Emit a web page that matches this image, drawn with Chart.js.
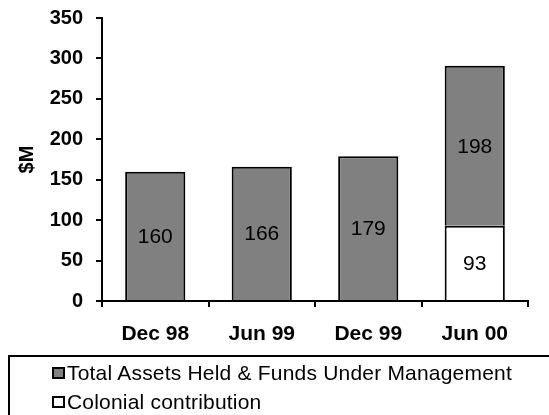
<!DOCTYPE html>
<html>
<head>
<meta charset="utf-8">
<script src="https://cdn.jsdelivr.net/npm/chart.js@4"></script>
<style>
  body { margin: 0; overflow: hidden; background: #fff; }
  #wrap { position: relative; width: 549px; height: 415px; }
  #legend {
    position: absolute; left: 8px; top: 355px; width: 600px; height: 100px;
    border: 2px solid #000; box-sizing: border-box;
    font-family: "Liberation Sans", Arial, sans-serif; font-size: 21px; letter-spacing: 0.2px;
  }
  .item { position: absolute; left: 42px; height: 24px; line-height: 24px; white-space: nowrap; }
  .item .box {
    position: absolute; left: 0; top: 6px; width: 13px; height: 12px;
    border: 2px solid #000; box-sizing: border-box;
  }
  .item span.txt { position: absolute; left: 15px; top: 0; }
</style>
</head>
<body>
<div id="wrap">
  <canvas id="chart" width="549" height="415"></canvas>
  <div id="legend"></div>
</div>
<script>
// Dados do gráfico
const periods = ['Dec 98', 'Jun 99', 'Dec 99', 'Jun 00'];
const totalAssets = [160, 166, 179, 198];
const colonial = [null, null, null, 93];
const yTicks = [0, 50, 100, 150, 200, 250, 300, 350];

// Escreve os valores no meio de cada barra
const barLabels = {
  id: 'barLabels',
  afterDatasetsDraw(chart) {
    const ctx = chart.ctx;
    ctx.save();
    ctx.font = '21px "Liberation Sans", Arial, sans-serif';
    ctx.fillStyle = '#000';
    ctx.textAlign = 'center';
    ctx.textBaseline = 'middle';
    chart.data.datasets.forEach((ds, i) => {
      chart.getDatasetMeta(i).data.forEach((bar, j) => {
        if (ds.data[j] == null) return;
        ctx.fillText(String(ds.data[j]), bar.x, (bar.y + bar.base) / 2 + 1);
      });
    });
    ctx.restore();
  }
};

const ctx = document.getElementById('chart').getContext('2d');
const chart = new Chart(ctx, {
  type: 'bar',
  data: {
    labels: periods,
    datasets: [
      {
        // fica por baixo na pilha
        label: 'Colonial contribution',
        data: colonial,
        backgroundColor: '#ffffff',
        borderColor: '#000000',
        borderWidth: 2
      },
      {
        label: 'Total Assets Held & Funds Under Management',
        data: totalAssets,
        backgroundColor: '#808080',
        borderColor: '#000000',
        borderWidth: 2
      }
    ]
  },
  options: {
    responsive: false,
    animation: false,
    layout: { padding: { left: 0, top: 18, right: 21, bottom: 70 } },
    datasets: { bar: { categoryPercentage: 1, barPercentage: 0.565 } },
    plugins: { legend: { display: false }, tooltip: { enabled: false } },
    scales: {
      x: {
        stacked: true,
        z: 1,
        afterFit: s => { s.height = 44; },
        grid: { drawOnChartArea: false, offset: true, color: '#000', lineWidth: 2, tickLength: 6 },
        border: { display: true, color: '#000', width: 2 },
        ticks: {
          color: '#000', padding: 15,
          font: { family: '"Liberation Sans", Arial, sans-serif', size: 21, weight: 'bold' }
        }
      },
      y: {
        stacked: true,
        min: yTicks[0],
        max: yTicks[yTicks.length - 1],
        afterFit: s => { s.width = 102; s.paddingTop = 0; s.paddingBottom = 0; },
        afterBuildTicks: s => { s.ticks = yTicks.map(v => ({ value: v })); },
        grid: { drawOnChartArea: false, color: '#000', lineWidth: 2, tickLength: 6 },
        border: { display: true, color: '#000', width: 2 },
        ticks: {
          color: '#000', padding: 13,
          font: { family: '"Liberation Sans", Arial, sans-serif', size: 20, weight: 'bold' }
        },
        title: {
          display: true, text: '$M', color: '#000',
          padding: { top: 15, bottom: 0 },
          font: { family: '"Liberation Sans", Arial, sans-serif', size: 20, weight: 'bold' }
        }
      }
    }
  },
  plugins: [barLabels]
});

// Legenda em HTML, na ordem inversa da pilha
const legend = document.getElementById('legend');
chart.data.datasets.slice().reverse().forEach((ds, i) => {
  const item = document.createElement('div');
  item.className = 'item';
  item.style.top = (4 + i * 29) + 'px';
  item.innerHTML = `<div class="box" style="background:${ds.backgroundColor}"></div><span class="txt">${ds.label}</span>`;
  legend.appendChild(item);
});
</script>
</body>
</html>
